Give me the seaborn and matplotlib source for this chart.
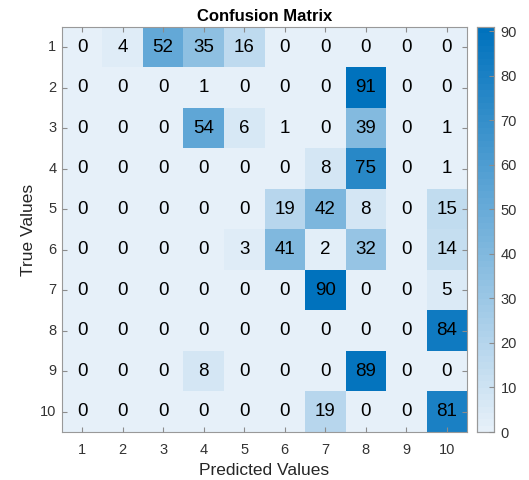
import numpy as np
import pandas as pd
import matplotlib
matplotlib.use('Agg')
import matplotlib.pyplot as plt
import seaborn as sns
from matplotlib.colors import LinearSegmentedColormap

labels = [str(i) for i in range(1, 11)]
row1 = [0, 4, 52, 35, 16, 0, 0, 0, 0, 0]
row2 = [0, 0, 0, 1, 0, 0, 0, 91, 0, 0]
row3 = [0, 0, 0, 54, 6, 1, 0, 39, 0, 1]
row4 = [0, 0, 0, 0, 0, 0, 8, 75, 0, 1]
row5 = [0, 0, 0, 0, 0, 19, 42, 8, 0, 15]
row6 = [0, 0, 0, 0, 3, 41, 2, 32, 0, 14]
row7 = [0, 0, 0, 0, 0, 0, 90, 0, 0, 5]
row8 = [0, 0, 0, 0, 0, 0, 0, 0, 0, 84]
row9 = [0, 0, 0, 8, 0, 0, 0, 89, 0, 0]
row10 = [0, 0, 0, 0, 0, 0, 19, 0, 0, 81]

cm = pd.DataFrame([row1, row2, row3, row4, row5, row6, row7, row8, row9, row10],
                  index=labels, columns=labels)

sns.set_style('white')
plt.rcParams['font.family'] = ['Liberation Sans', 'DejaVu Sans']

cmap = LinearSegmentedColormap.from_list('mblue', ['#e6f0f9', '#0072bd'], N=64)

fig = plt.figure(figsize=(5.29, 4.8), dpi=100)
ax = fig.add_axes([0.117, 0.1, 0.766, 0.844])
cax = fig.add_axes([0.901, 0.1, 0.032, 0.844])

sns.heatmap(cm, ax=ax, cbar_ax=cax, cmap=cmap, vmin=0, vmax=cm.values.max(),
            annot=True, fmt='d', annot_kws={'fontsize': 13.5, 'color': '#000000'})
# ticks are drawn inward, so keep them above the cells
ax.set_axisbelow(False)
cax.set_axisbelow(False)

ax.set_title('Confusion Matrix', fontsize=12, fontweight='bold', color='#000000', pad=4)
ax.set_xlabel('Predicted Values', fontsize=12.5, color='#262626', labelpad=4)
ax.set_ylabel('True Values', fontsize=12.5, color='#262626', labelpad=3)
ax.tick_params(axis='both', which='major', direction='in', length=3.5, width=0.8,
               color='#8c8c8c', labelsize=10.5, labelcolor='#333333',
               right=True, bottom=True, left=True, top=True,
               labelright=False, labeltop=False)
ax.tick_params(axis='x', pad=8)
ax.tick_params(axis='y', rotation=0, pad=4)
for s in ax.spines.values():
    s.set_visible(True)
    s.set_color('#999999')
    s.set_linewidth(0.8)

cax.tick_params(direction='in', length=3.5, width=0.8, color='#8c8c8c', labelsize=10.5,
                labelcolor='#333333', pad=5)
cax.set_yticks(range(0, 91, 10))
for s in cax.spines.values():
    s.set_visible(True)
    s.set_color('#999999')
    s.set_linewidth(0.8)

fig.savefig('out.png', dpi=100)
